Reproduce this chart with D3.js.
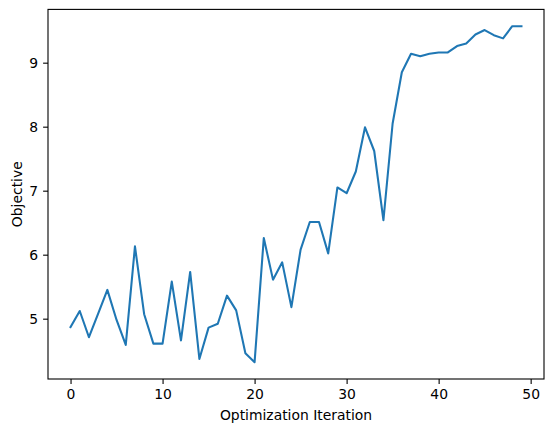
<!DOCTYPE html>
<html>
<head>
<meta charset="utf-8">
<script src="https://cdn.jsdelivr.net/npm/d3@7"></script>
<style>
  body { margin: 0; background: white; }
  text { font-family: "DejaVu Sans", sans-serif; }
</style>
</head>
<body>
<div id="container"></div>
<script>
let w = 554;
let h = 432;

// data
let iterations = d3.range(50);
let objective = [
  4.87, 5.12, 4.71, 5.08, 5.45, 4.98, 4.59, 6.13, 5.07, 4.61,
  4.61, 5.58, 4.66, 5.73, 4.37, 4.86, 4.92, 5.36, 5.13, 4.46,
  4.32, 6.26, 5.61, 5.88, 5.18, 6.08, 6.51, 6.51, 6.02, 7.05,
  6.96, 7.30, 7.99, 7.62, 6.54, 8.05, 8.85, 9.14, 9.10, 9.14,
  9.16, 9.16, 9.26, 9.30, 9.44, 9.51, 9.43, 9.38, 9.57, 9.57
];
let xTicks = [0, 10, 20, 30, 40, 50];
let yTicks = [5, 6, 7, 8, 9];

let padLeft = 48, padRight = 544, padTop = 9.4, padBottom = 379;

let viz = d3.select("#container").append("svg")
    .attr("width", w)
    .attr("height", h)
    .style("background-color", "white");

// matplotlib style 5% margins
let xmin = d3.min(iterations), xmax = d3.max(iterations);
let xpad = (xmax - xmin) * 0.05;
let ymin = d3.min(objective), ymax = d3.max(objective);
let ypad = (ymax - ymin) * 0.05;

let x = d3.scaleLinear().domain([xmin - xpad, xmax + xpad]).range([padLeft, padRight]);
let y = d3.scaleLinear().domain([ymin - ypad, ymax + ypad]).range([padBottom, padTop]);

let xAxis = viz.append("g")
    .attr("transform", "translate(0," + padBottom + ")")
    .call(d3.axisBottom(x).tickValues(xTicks).tickSize(4.9).tickPadding(4.9).tickFormat(d3.format("d")));
let yAxis = viz.append("g")
    .attr("transform", "translate(" + padLeft + ",0)")
    .call(d3.axisLeft(y).tickValues(yTicks).tickSize(4.9).tickPadding(4.9).tickFormat(d3.format("d")));

[xAxis, yAxis].forEach(g => {
  g.select(".domain").remove();
  g.selectAll(".tick line").attr("stroke", "black").attr("stroke-width", 1.1);
  g.selectAll(".tick text").attr("fill", "black").style("font-size", "13.9px").style("font-family", "DejaVu Sans");
});

let line = d3.line()
    .x((d, i) => x(iterations[i]))
    .y(d => y(d));

viz.append("path")
    .datum(objective)
    .attr("d", line)
    .attr("fill", "none")
    .attr("stroke", "#1f77b4")
    .attr("stroke-width", 2.08)
    .attr("stroke-linejoin", "round")
    .attr("stroke-linecap", "square");

// frame
viz.append("rect")
    .attr("x", padLeft)
    .attr("y", padTop)
    .attr("width", padRight - padLeft)
    .attr("height", padBottom - padTop)
    .attr("fill", "none")
    .attr("stroke", "black")
    .attr("stroke-width", 1.1);

viz.append("text")
    .attr("x", (padLeft + padRight) / 2)
    .attr("y", 420)
    .attr("text-anchor", "middle")
    .style("font-size", "13.9px")
    .text("Optimization Iteration");

viz.append("text")
    .attr("transform", "translate(22," + (padTop + padBottom) / 2 + ") rotate(-90)")
    .attr("text-anchor", "middle")
    .style("font-size", "13.9px")
    .text("Objective");
</script>
</body>
</html>
